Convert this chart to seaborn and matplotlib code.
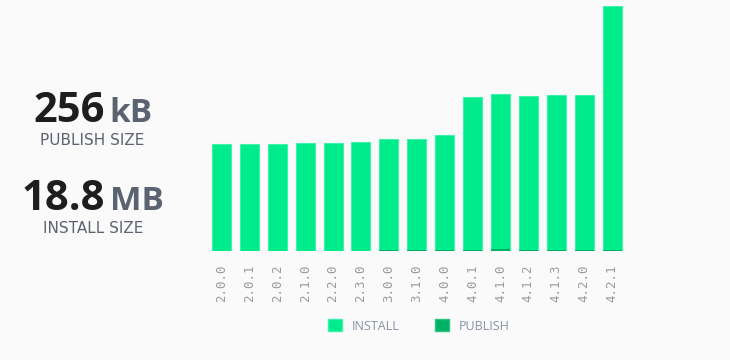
import matplotlib
matplotlib.use("Agg")
import matplotlib.pyplot as plt
import seaborn as sns
import pandas as pd
from matplotlib.patches import Patch

versions = ["2.0.0", "2.0.1", "2.0.2", "2.1.0", "2.2.0", "2.3.0", "3.0.0", "3.1.0",
            "4.0.0", "4.0.1", "4.1.0", "4.1.2", "4.1.3", "4.2.0", "4.2.1"]
install_mb = [8.21, 8.21, 8.21, 8.29, 8.29, 8.36, 8.59, 8.59,
              8.90, 11.82, 12.05, 11.89, 11.97, 11.97, 18.8]
publish_kb = [30, 30, 30, 30, 35, 35, 40, 40,
              70, 80, 170, 100, 100, 100, 110]

df = pd.DataFrame({"version": versions,
                   "install": install_mb,
                   "publish": [v / 1000 for v in publish_kb]})

sns.set_theme(style="white")
bg = "#fafafa"
c_install = "#00eb8b"
c_publish = "#00b165"

fig = plt.figure(figsize=(7.3, 3.6), dpi=100, facecolor=bg)
ax = fig.add_axes([207.5 / 730, 109 / 360, 418.5 / 730, 245 / 360])
ax.set_facecolor(bg)

sns.barplot(data=df, x="version", y="install", color=c_install, width=0.68,
            edgecolor="#3df3a8", linewidth=0.8, saturation=1, ax=ax)
sns.barplot(data=df, x="version", y="publish", color=c_publish, width=0.68,
            linewidth=0, saturation=1, ax=ax)

ax.set_xlim(-0.5, len(versions) - 0.5)
ax.set_ylim(0, 18.8)
ax.set_xlabel("")
ax.set_ylabel("")
ax.set_yticks([])
for s in ax.spines.values():
    s.set_visible(False)
ax.tick_params(axis="x", length=0, pad=10, colors="#9a9a9a")
for lab in ax.get_xticklabels():
    lab.set_rotation(90)
    lab.set_fontfamily("DejaVu Sans Mono")
    lab.set_fontsize(9)
    lab.set_color("#9a9a9a")

# Left-hand summary text
fig.text(105 / 730, 0.661, "256", ha="right", va="baseline", fontsize=30,
         fontweight="bold", color="#1e1e1e", family="Open Sans")
fig.text(109 / 730, 0.661, "kB", ha="left", va="baseline", fontsize=24,
         fontweight="bold", color="#5c6370", family="Open Sans")
fig.text(92.5 / 730, 0.597, "PUBLISH SIZE", ha="center", va="baseline", fontsize=11,
         color="#5c6370", family="DejaVu Sans")
fig.text(105 / 730, 0.417, "18.8", ha="right", va="baseline", fontsize=30,
         fontweight="bold", color="#1e1e1e", family="Open Sans")
fig.text(110 / 730, 0.417, "MB", ha="left", va="baseline", fontsize=24,
         fontweight="bold", color="#5c6370", family="Open Sans")
fig.text(93 / 730, 0.353, "INSTALL SIZE", ha="center", va="baseline", fontsize=11,
         color="#5c6370", family="DejaVu Sans")

handles = [Patch(facecolor=c_install, edgecolor="#3df3a8", label="INSTALL"),
           Patch(facecolor=c_publish, edgecolor="#2cc47e", label="PUBLISH")]
leg = fig.legend(handles=handles, loc="center", bbox_to_anchor=(419 / 730, 34 / 360),
                 ncol=2, frameon=False, handlelength=1.1, handleheight=1.1,
                 columnspacing=2.8, handletextpad=0.8,
                 prop={"family": "Open Sans", "size": 9})
for t in leg.get_texts():
    t.set_color("#8a93a3")

fig.savefig("out.png", dpi=100, facecolor=bg)
